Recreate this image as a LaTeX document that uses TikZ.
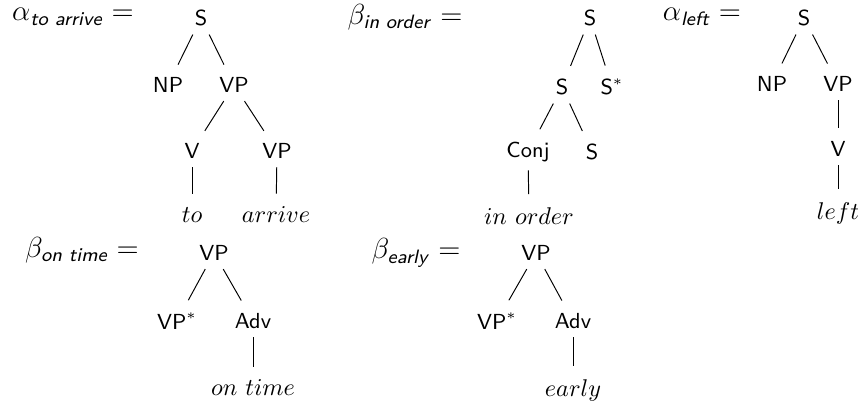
\documentclass[tikz,border=0pt]{standalone}
\usepackage{amssymb,amsmath}
\usepackage{tikz}

\begin{document}
\begin{tikzpicture}[x=0.4132pt,y=-0.4132pt]
\tikzstyle{cat} =[font=\small\sffamily]
\tikzstyle{word} =[font=\normalsize]
\tikzstyle{tree name} =[font=\large]
\tikzset{every path/.style={shorten >=2pt}}

\useasboundingbox (0,0) rectangle (858,408);

% alpha to arrive
\node[tree name](n1) at (73,17){$\alpha_{\textsf{\textit{to arrive}}} =$};
\node[cat](a1s) at (201,18){S};
\node[cat](a1np) at (168,85){NP};
\node[cat](a1vp) at (234,85){VP};
\node[cat](a1v) at (192,151){V};
\node[cat](a1vp2) at (277,151){VP};
\node[word](a1to) at (192,215){$to$};
\node[word](a1arr) at (276,215){$arrive$};

\draw (a1s) -- (a1np);
\draw (a1s) -- (a1vp);
\draw (a1vp) -- (a1v);
\draw (a1vp) -- (a1vp2);
\draw (a1v) -- (a1to);
\draw (a1vp2) -- (a1arr);

% beta in order
\node[tree name](n2) at (405,17){$\beta_{\textsf{\textit{in order}}} =$};
\node[cat](b1s) at (590,18){S};
\node[cat](b1s2) at (562,87){S};
\node[cat](b1foot) at (612,87){S$^*$};
\node[cat](b1conj) at (528,152){Conj};
\node[cat](b1s3) at (592,152){S};
\node[word](b1ord) at (529,216){$in\ order$};

\draw (b1s) -- (b1s2);
\draw (b1s) -- (b1foot);
\draw (b1s2) -- (b1conj);
\draw (b1s2) -- (b1s3);
\draw (b1conj) -- (b1ord);

% alpha left
\node[tree name](n3) at (702,17){$\alpha_{\textsf{\textit{left}}} =$};
\node[cat](a2s) at (804,18){S};
\node[cat](a2np) at (772,84){NP};
\node[cat](a2vp) at (838,84){VP};
\node[cat](a2v) at (838,149){V};
\node[word](a2left) at (838,213){$left$};

\draw (a2s) -- (a2np);
\draw (a2s) -- (a2vp);
\draw (a2vp) -- (a2v);
\draw (a2v) -- (a2left);

% beta on time
\node[tree name](n4) at (82,250){$\beta_{\textsf{\textit{on time}}} =$};
\node[cat](b2vp) at (214,253){VP};
\node[cat](b2foot) at (177,321){VP$^*$};
\node[cat](b2adv) at (253,321){Adv};
\node[word](b2time) at (253,388){$on\ time$};

\draw (b2vp) -- (b2foot);
\draw (b2vp) -- (b2adv);
\draw (b2adv) -- (b2time);

% beta early
\node[tree name](n5) at (416,253){$\beta_{\textsf{\textit{early}}} =$};
\node[cat](b3vp) at (536,253){VP};
\node[cat](b3foot) at (497,321){VP$^*$};
\node[cat](b3adv) at (573,321){Adv};
\node[word](b3early) at (573,390){$early$};

\draw (b3vp) -- (b3foot);
\draw (b3vp) -- (b3adv);
\draw (b3adv) -- (b3early);
\end{tikzpicture}
\end{document}
